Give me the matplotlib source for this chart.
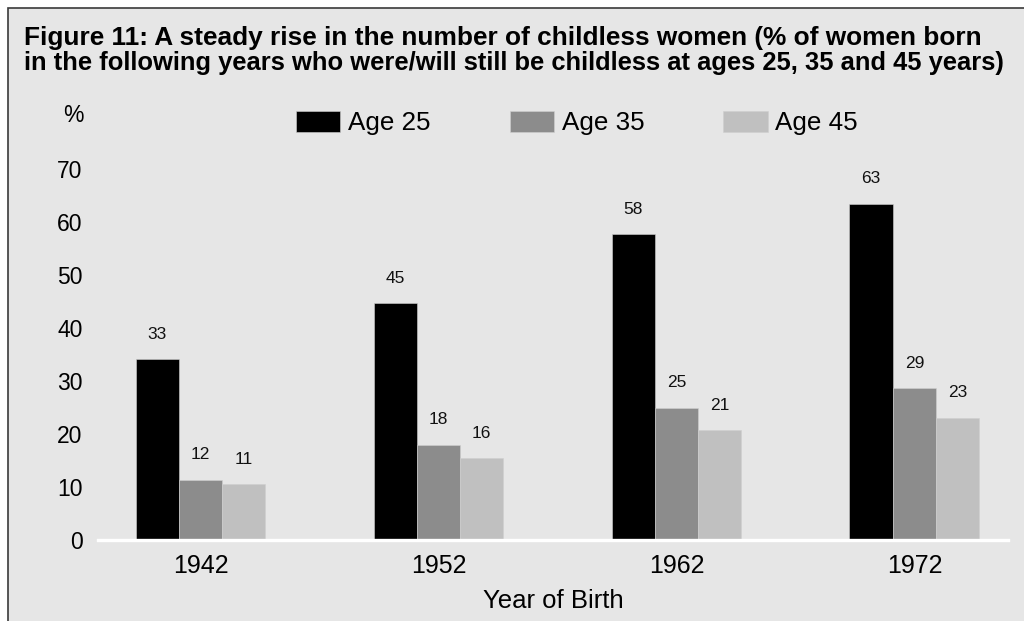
import matplotlib
matplotlib.use("Agg")
import matplotlib.pyplot as plt
from matplotlib.patches import Rectangle, Patch
import numpy as np

plt.rcParams['font.family'] = ['Liberation Sans', 'DejaVu Sans']

years = ["1942", "1952", "1962", "1972"]
series_names = ["Age 25", "Age 35", "Age 45"]
age25 = [34.1, 44.7, 57.7, 63.4]
age35 = [11.4, 18.0, 25.0, 28.6]
age45 = [10.5, 15.4, 20.7, 23.1]
labels25 = ["33", "45", "58", "63"]
labels35 = ["12", "18", "25", "29"]
labels45 = ["11", "16", "21", "23"]
yticks = [0, 10, 20, 30, 40, 50, 60, 70]
colors = ["#000000", "#8c8c8c", "#c0c0c0"]

W, H = 1024, 621
fig = plt.figure(figsize=(W / 100, H / 100), dpi=100, facecolor="white")

# framed background panel
fig.patches.append(Rectangle((8 / W, -0.01), 1.02, (H - 8) / H + 0.01, transform=fig.transFigure,
                             facecolor="#e6e6e6", edgecolor="#3a3a3a", linewidth=1.2, zorder=-10))

ax_l, ax_r, ax_b, ax_t = 98, 1008, 540, 169
ax = fig.add_axes([ax_l / W, (H - ax_b) / H, (ax_r - ax_l) / W, (ax_b - ax_t) / H])
ax.set_facecolor("none")
ax.set_zorder(2)

x = np.arange(len(years))
bw = 0.182
all_vals = [age25, age35, age45]
all_labels = [labels25, labels35, labels45]
for i, (vals, labs) in enumerate(zip(all_vals, all_labels)):
    xs = x + (i - 1) * bw
    ax.bar(xs, vals, width=bw, color=colors[i], edgecolor="#d0d0d0", linewidth=0.4,
           label=series_names[i], zorder=2)
    for xi, v, lab in zip(xs, vals, labs):
        ax.annotate(lab, (xi, v), xytext=(0, 18), textcoords="offset points",
                    ha="center", va="center", fontsize=12.5, color="#111111", annotation_clip=False)

ax.set_xlim(-0.4307, 3.393)
ax.set_ylim(0, 70)
ax.set_yticks(yticks)
ax.set_yticklabels([str(t) for t in yticks], fontsize=16.5)
ax.set_xticks(x)
ax.set_xticklabels(years, fontsize=18)
ax.tick_params(axis="both", length=0)
ax.tick_params(axis="y", pad=11)
ax.tick_params(axis="x", pad=10)
for s in ["left", "right", "top"]:
    ax.spines[s].set_visible(False)
ax.spines["bottom"].set_color("white")
ax.spines["bottom"].set_linewidth(2.4)
ax.spines["bottom"].set_zorder(3)
ax.set_xlabel("Year of Birth", fontsize=18.5, labelpad=8)

fig.text(73 / W, 1 - 116 / H, "%", fontsize=16.5, ha="center", va="center")

fig.text(24 / W, 1 - 45 / H, "Figure 11: A steady rise in the number of childless women (% of women born",
         fontsize=18.9, fontweight="bold", ha="left", va="baseline")
fig.text(24 / W, 1 - 70 / H, "in the following years who were/will still be childless at ages 25, 35 and 45 years)",
         fontsize=18.35, fontweight="bold", ha="left", va="baseline")

handles = [Patch(facecolor=c, edgecolor="#d0d0d0", linewidth=0.4) for c in colors]
fig.legend(handles, series_names, loc="center left", bbox_to_anchor=(296 / W, 1 - 123 / H),
           ncol=3, frameon=False, fontsize=18.7, handlelength=1.7, handleheight=0.85,
           handletextpad=0.3, columnspacing=3.05, borderpad=0, borderaxespad=0)

fig.savefig("out.png", dpi=100, facecolor=fig.get_facecolor())
